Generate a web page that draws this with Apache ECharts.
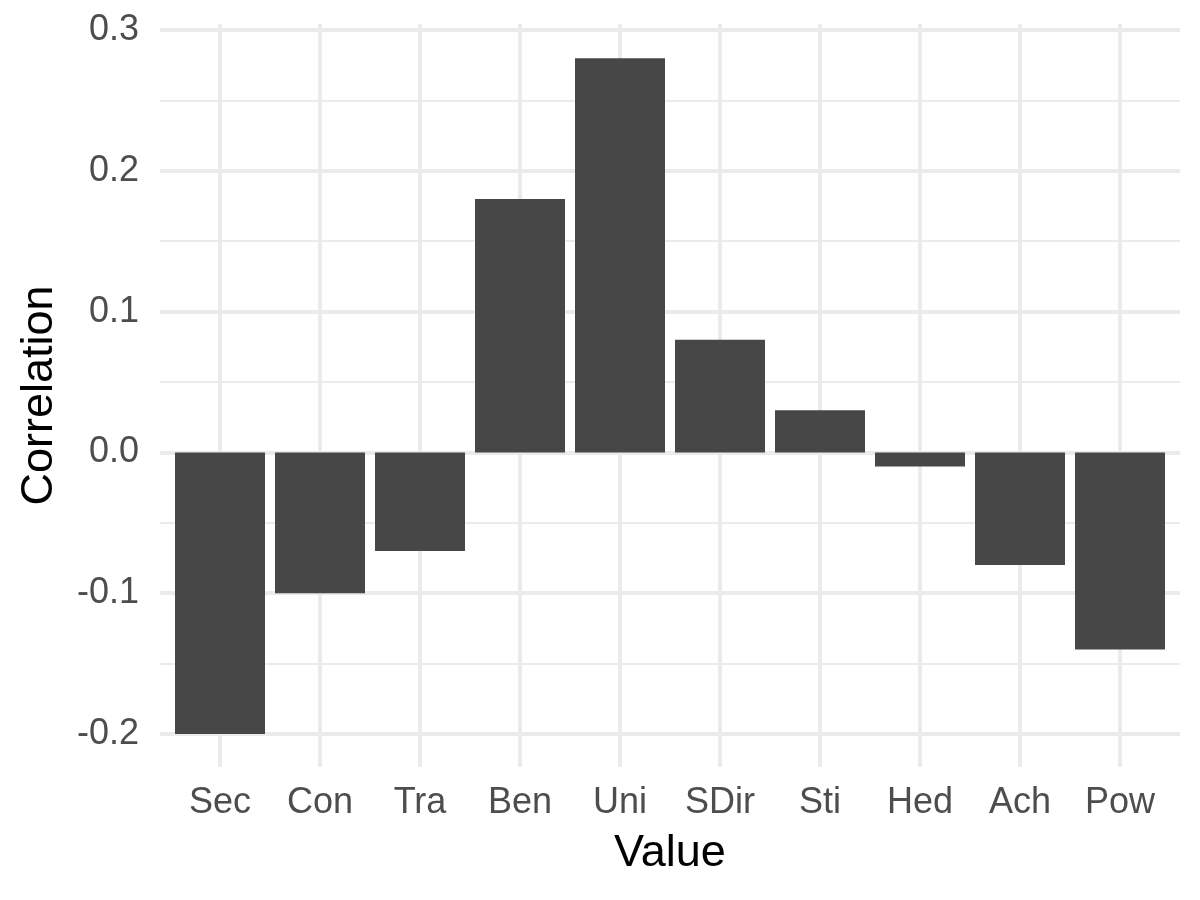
<!DOCTYPE html>
<html>
<head>
<meta charset="utf-8">
<script src="https://cdn.jsdelivr.net/npm/echarts@6/dist/echarts.min.js"></script>
<style>html,body{margin:0;padding:0;background:#fff;}#c{width:1200px;height:900px;}</style>
</head>
<body>
<div id="c"></div>
<script>
const categories = ['Sec','Con','Tra','Ben','Uni','SDir','Sti','Hed','Ach','Pow'];
const correlations = [-0.2, -0.1, -0.07, 0.18, 0.28, 0.08, 0.03, -0.01, -0.08, -0.14];
const yTicks = [-0.2, -0.1, 0.0, 0.1, 0.2, 0.3];

const FONT = 'Liberation Sans, Arial, Helvetica, sans-serif';
const GRID = '#EBEBEB';
const chart = echarts.init(document.getElementById('c'), null, {renderer: 'canvas'});
chart.setOption({
  animation: false,
  backgroundColor: '#ffffff',
  textStyle: {fontFamily: FONT},
  grid: [
    {left: 160, right: 20, top: 30, bottom: 166},
    {left: 220, right: 80, top: 24, bottom: 133},
    {left: 170, right: 30, top: 30, bottom: 166}
  ],
  xAxis: [
    {gridIndex: 0, type: 'value', show: false},
    {gridIndex: 1, type: 'value', min: 0, max: categories.length - 1, interval: 1,
      axisLine: {show: false}, axisTick: {show: false}, axisLabel: {show: false},
      splitLine: {show: true, lineStyle: {color: GRID, width: 4}},
      name: 'Value', nameLocation: 'middle', nameGap: 64,
      nameTextStyle: {fontSize: 45, color: '#000', fontFamily: FONT}},
    {gridIndex: 2, type: 'category', data: categories, boundaryGap: true,
      axisLine: {show: false}, axisTick: {show: false}, splitLine: {show: false},
      axisLabel: {fontSize: 36, color: '#4D4D4D', margin: 51, fontFamily: FONT, interval: 0}}
  ],
  yAxis: [
    {gridIndex: 0, type: 'value', min: yTicks[0], max: yTicks[yTicks.length-1], interval: 0.1,
      axisLine: {show: false}, axisTick: {show: false},
      axisLabel: {fontSize: 36, color: '#4D4D4D', margin: 21, fontFamily: FONT,
        formatter: v => v.toFixed(1)},
      splitLine: {show: true, lineStyle: {color: GRID, width: 4}},
      minorTick: {show: false, splitNumber: 2},
      minorSplitLine: {show: true, lineStyle: {color: GRID, width: 2}}},
    {gridIndex: 1, type: 'value', axisLine: {show: false}, axisTick: {show: false},
      axisLabel: {show: false}, splitLine: {show: false},
      name: 'Correlation', nameLocation: 'middle', nameGap: 158, nameRotate: 90,
      nameTextStyle: {fontSize: 45, color: '#000', fontFamily: FONT}},
    {gridIndex: 2, type: 'value', min: yTicks[0], max: yTicks[yTicks.length-1], interval: 0.1, show: false,
      splitLine: {show: false}}
  ],
  series: [{
    type: 'bar', xAxisIndex: 2, yAxisIndex: 2,
    data: correlations, barWidth: '90%',
    itemStyle: {color: '#474747'}
  }]
});
</script>
</body>
</html>
